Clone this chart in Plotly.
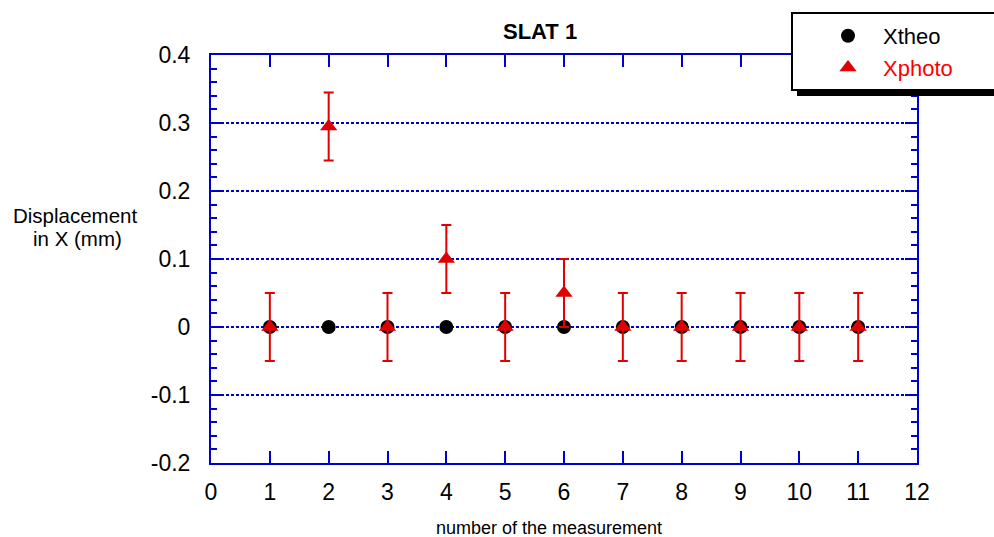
import plotly.graph_objects as go

# Measurement index and displacement values (mm)
measurement = [1, 2, 3, 4, 5, 6, 7, 8, 9, 10, 11]
x_theo = [0, 0, 0, 0, 0, 0, 0, 0, 0, 0, 0]
x_photo = [0, 0.295, 0, 0.1, 0, 0.05, 0, 0, 0, 0, 0]
photo_err = [0.05, 0.05, 0.05, 0.05, 0.05, 0.05, 0.05, 0.05, 0.05, 0.05, 0.05]

x_ticks = list(range(0, 13))
y_ticks = [-0.2, -0.1, 0, 0.1, 0.2, 0.3, 0.4]
y_tick_text = ["-0.2", "-0.1", "0", "0.1", "0.2", "0.3", "0.4"]

BLUE = "#0000cc"
RED = "#e00000"
FONT = "Liberation Sans, Arial, sans-serif"

W, H = 994, 537
ML, MR, MT, MB = 211, 77, 55, 74
PW, PH = W - ML - MR, H - MT - MB


def px_x(px):
    return (px - ML) / PW


def px_y(py):
    return (H - MB - py) / PH


def label(text, x, y, size):
    return dict(text=text, xref="paper", yref="paper",
                x=px_x(x), y=px_y(y), xanchor="center", yanchor="middle",
                showarrow=False, font=dict(family=FONT, size=size, color="black"))


fig = go.Figure()

fig.add_trace(go.Scatter(
    x=measurement, y=x_theo, mode="markers", name="Xtheo",
    legendgroup="theo",
    marker=dict(symbol="circle", size=14, color="black"),
))

fig.add_trace(go.Scatter(
    x=measurement, y=x_photo, mode="markers",
    name='<span style="color:#ff0000">Xphoto</span>',
    legendgroup="photo",
    marker=dict(symbol="triangle-up", size=15, color=RED),
    error_y=dict(type="data", array=photo_err, visible=True,
                 color=RED, thickness=2, width=5),
))

axis_common = dict(
    showline=True, linecolor=BLUE, linewidth=2, mirror="allticks",
    ticks="inside", tickcolor=BLUE, tickwidth=2, ticklen=12,
    zeroline=False,
    tickfont=dict(family=FONT, size=23, color="black"),
)

fig.update_xaxes(
    range=[0, 12], tickvals=x_ticks, showgrid=False,
    ticklabelstandoff=7,
    **axis_common,
)
fig.update_yaxes(
    range=[-0.2, 0.4], tickvals=y_ticks, ticktext=y_tick_text,
    showgrid=True, gridcolor=BLUE, gridwidth=2, griddash="3px,2px",
    minor=dict(dtick=0.02, ticks="inside", ticklen=6, tickwidth=2,
               tickcolor=BLUE, showgrid=False),
    ticklabelstandoff=14,
    **axis_common,
)

# Legend frame with drop shadow
shapes = [
    dict(type="rect", xref="paper", yref="paper",
         x0=px_x(797), x1=px_x(1010), y0=px_y(96), y1=px_y(19),
         fillcolor="black", line=dict(width=0), layer="above"),
    dict(type="rect", xref="paper", yref="paper",
         x0=px_x(792), x1=px_x(1005), y0=px_y(90), y1=px_y(13),
         fillcolor="white", line=dict(color="black", width=2), layer="above"),
]

annotations = [
    label("<b>SLAT 1</b>", 540, 32, 22),
    label("number of the measurement", 549, 528, 18),
    label("Displacement", 75, 215, 20.5),
    label("in X (mm)", 77, 239, 20.5),
]

fig.update_layout(
    width=W, height=H,
    margin=dict(l=ML, r=MR, t=MT, b=MB),
    paper_bgcolor="white", plot_bgcolor="white",
    font=dict(family=FONT, color="black"),
    showlegend=True,
    legend=dict(
        x=px_x(813), y=px_y(15), xanchor="left", yanchor="top",
        bgcolor="rgba(0,0,0,0)", borderwidth=0,
        font=dict(family=FONT, size=22, color="black"),
        itemwidth=60, tracegroupgap=0,
    ),
    shapes=shapes,
    annotations=annotations,
)

fig.write_html("out.html")
